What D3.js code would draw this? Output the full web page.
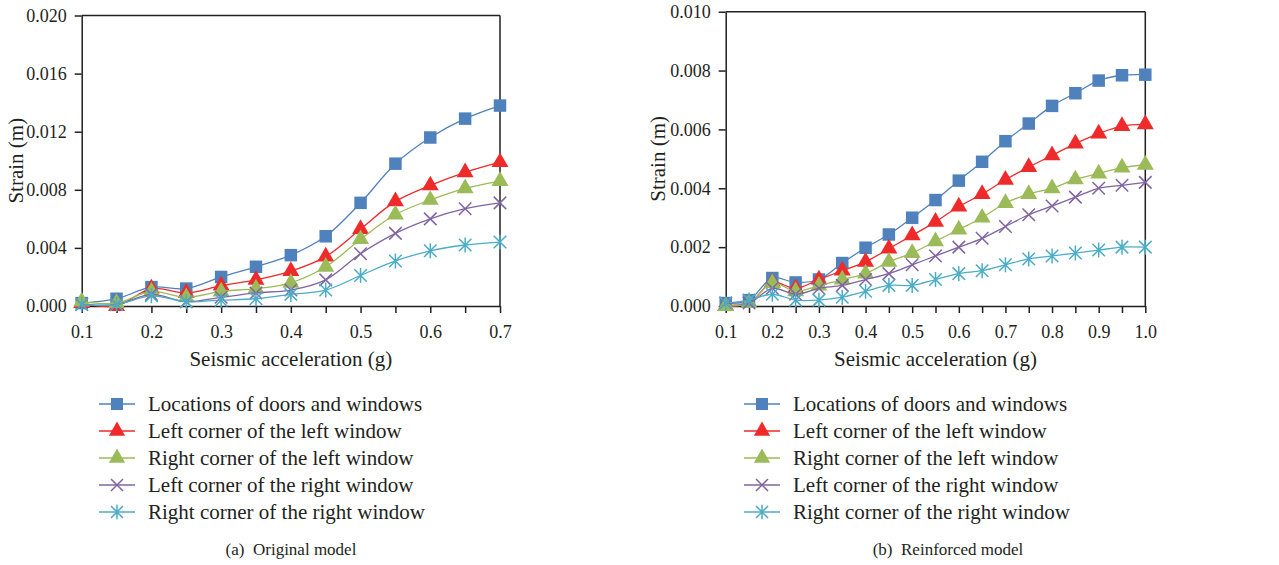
<!DOCTYPE html>
<html lang="en">
<head>
<meta charset="utf-8">
<title>strain curves</title>
<script src="https://d3js.org/d3.v7.min.js"></script>
<style>
  body{margin:0;background:#fff;font-family:"Liberation Serif","DejaVu Serif",serif;}
  .axis path,.axis line{stroke:#231f20;stroke-width:1.5;}
  .title{font-size:21px;fill:#231f20;}
  .legend text{font-size:21px;fill:#231f20;}
  .caption{font-size:17px;fill:#231f20;white-space:pre;}
</style>
</head>
<body>
<div id="chart"></div>
<script>
// series names, same for both panels
var seriesNames = ["Locations of doors and windows","Left corner of the left window","Right corner of the left window","Left corner of the right window","Right corner of the right window"]
var seriesColors = ["#4f81bd","#ee2a2a","#9bbb59","#8064a2","#4bacc6"]
var seriesShapes = ["square","triangle","triangle","x","star"]

// (a) original model
var accOriginal = [0.1,0.15,0.2,0.25,0.3,0.35,0.4,0.45,0.5,0.55,0.6,0.65,0.7]
var doorsOriginal     = [0.0002,0.0005,0.0013,0.0012,0.0020,0.0027,0.0035,0.0048,0.0071,0.0098,0.0116,0.0129,0.0138]
var leftLeftOriginal  = [0.0002,0.0000,0.0012,0.0009,0.0014,0.0018,0.0024,0.0034,0.0053,0.0072,0.0083,0.0092,0.0099]
var rightLeftOriginal = [0.0003,0.0002,0.0010,0.0006,0.0010,0.0012,0.0016,0.0027,0.0046,0.0063,0.0073,0.0081,0.0086]
var leftRightOriginal = [0.0001,0.0001,0.0008,0.0003,0.0006,0.0009,0.0011,0.0018,0.0036,0.0050,0.0060,0.0067,0.0071]
var rightRightOriginal= [0.0001,0.0001,0.0007,0.0003,0.0004,0.0005,0.0008,0.0011,0.0021,0.0031,0.0038,0.0042,0.0044]
var xTicksOriginal = [0.1,0.15,0.2,0.25,0.3,0.35,0.4,0.45,0.5,0.55,0.6,0.65,0.7]
var xLabelsOriginal = ["0.1","","0.2","","0.3","","0.4","","0.5","","0.6","","0.7"]
var yTicksOriginal = [0,0.004,0.008,0.012,0.016,0.020]
var yLabelsOriginal = ["0.000","0.004","0.008","0.012","0.016","0.020"]

// (b) reinforced model
var accReinforced = [0.1,0.15,0.2,0.25,0.3,0.35,0.4,0.45,0.5,0.55,0.6,0.65,0.7,0.75,0.8,0.85,0.9,0.95,1.0]
var doorsReinforced     = [0.0001,0.0002,0.00095,0.0008,0.0009,0.00146,0.00198,0.00243,0.0030,0.0036,0.00426,0.0049,0.0056,0.0062,0.0068,0.00723,0.00766,0.00784,0.00786]
var leftLeftReinforced  = [0.0000,0.0001,0.0008,0.0006,0.0009,0.0012,0.0015,0.00195,0.0024,0.00286,0.00338,0.0038,0.00429,0.00472,0.00512,0.00552,0.00586,0.00611,0.00617]
var rightLeftReinforced = [0.0000,0.0001,0.00078,0.0005,0.00069,0.0009,0.0011,0.0015,0.0018,0.0022,0.0026,0.0030,0.0035,0.0038,0.0040,0.0043,0.0045,0.0047,0.0048]
var leftRightReinforced = [0.0001,0.0001,0.0006,0.0004,0.0006,0.0007,0.0009,0.0011,0.0014,0.0017,0.0020,0.0023,0.0027,0.0031,0.0034,0.0037,0.0040,0.0041,0.0042]
var rightRightReinforced= [0.0001,0.0002,0.0004,0.0002,0.0002,0.0003,0.0005,0.0007,0.0007,0.0009,0.0011,0.0012,0.0014,0.0016,0.0017,0.0018,0.0019,0.0020,0.0020]
var xTicksReinforced = [0.1,0.15,0.2,0.25,0.3,0.35,0.4,0.45,0.5,0.55,0.6,0.65,0.7,0.75,0.8,0.85,0.9,0.95,1.0]
var xLabelsReinforced = ["0.1","","0.2","","0.3","","0.4","","0.5","","0.6","","0.7","","0.8","","0.9","","1.0"]
var yTicksReinforced = [0,0.002,0.004,0.006,0.008,0.010]
var yLabelsReinforced = ["0.000","0.002","0.004","0.006","0.008","0.010"]

var svg = d3.select("#chart").append("svg").attr("width",1279).attr("height",565)

// marker paths, drawn around 0,0
function marker(g, shape, color, s){
    if(shape=="square"){
        g.append("path").attr("d", d3.symbol().type(d3.symbolSquare).size(s*s)()).attr("fill",color)
    } else if(shape=="triangle"){
        g.append("path").attr("d", d3.symbol().type(d3.symbolTriangle).size(s*s*0.8)()).attr("fill",color)
    } else {
        var h = s/2
        var d = "M"+(-h)+","+(-h)+"L"+h+","+h+"M"+(-h)+","+h+"L"+h+","+(-h)
        if(shape=="star") d += "M0,"+(-h*1.2)+"L0,"+(h*1.2)
        g.append("path").attr("d",d).attr("stroke",color).attr("stroke-width",1.5).attr("fill","none")
    }
}

function drawChart(cfg){
    var x = d3.scaleLinear().domain([cfg.xTicks[0], cfg.xTicks[cfg.xTicks.length-1]]).range([cfg.left,cfg.right])
    var y = d3.scaleLinear().domain([0, cfg.yTicks[cfg.yTicks.length-1]]).range([306,cfg.top])

    // frame top and right
    svg.append("line").attr("x1",cfg.left).attr("x2",cfg.right).attr("y1",cfg.top).attr("y2",cfg.top)
        .attr("stroke","#231f20").attr("stroke-width",1.5)
    svg.append("line").attr("x1",cfg.right).attr("x2",cfg.right).attr("y1",cfg.top).attr("y2",306)
        .attr("stroke","#231f20").attr("stroke-width",1.5)

    var xAxis = d3.axisBottom(x).tickValues(cfg.xTicks).tickSize(7).tickSizeOuter(0).tickPadding(12)
        .tickFormat(function(d,i){ return cfg.xLabels[i] })
    svg.append("g").attr("class","axis").attr("transform","translate(0,306)").call(xAxis)
        .attr("font-family","Liberation Serif, serif").attr("font-size",18)

    var yAxis = d3.axisLeft(y).tickValues(cfg.yTicks).tickSize(7).tickSizeOuter(0).tickPadding(8)
        .tickFormat(function(d,i){ return cfg.yLabels[i] })
    svg.append("g").attr("class","axis").attr("transform","translate("+cfg.left+",0)").call(yAxis)
        .attr("font-family","Liberation Serif, serif").attr("font-size",18)
    svg.selectAll(".axis text").attr("fill","#231f20")

    // titles
    svg.append("text").attr("class","title").attr("text-anchor","middle")
        .attr("x",(cfg.left+cfg.right)/2).attr("y",366).text("Seismic acceleration (g)")
    svg.append("text").attr("class","title").attr("text-anchor","middle")
        .attr("transform","translate("+cfg.ylabX+","+((306+cfg.top)/2)+") rotate(-90)")
        .attr("dy","0.35em").text("Strain (m)")

    var line = d3.line().x(function(d){return x(d[0])}).y(function(d){return y(d[1])}).curve(d3.curveCatmullRom.alpha(0.5))

    cfg.series.forEach(function(vals,k){
        var pts = cfg.acc.map(function(a,i){ return [a, vals[i]] })
        svg.append("path").attr("d",line(pts)).attr("fill","none")
            .attr("stroke",seriesColors[k]).attr("stroke-width",1.3)
        pts.forEach(function(p){
            var g = svg.append("g").attr("transform","translate("+x(p[0])+","+y(p[1])+")")
            marker(g, seriesShapes[k], seriesColors[k], 12.5)
        })
    })

    // legend
    var lg = svg.append("g").attr("class","legend")
    seriesNames.forEach(function(name,k){
        var ly = 404 + k*27
        lg.append("line").attr("x1",cfg.legendX).attr("x2",cfg.legendX+36).attr("y1",ly).attr("y2",ly)
            .attr("stroke",seriesColors[k]).attr("stroke-width",1.5)
        var g = lg.append("g").attr("transform","translate("+(cfg.legendX+18)+","+ly+")")
        marker(g, seriesShapes[k], seriesColors[k], 12)
        lg.append("text").attr("x",cfg.legendX+49).attr("y",ly).attr("dy","0.33em").text(name)
    })

    svg.append("text").attr("class","caption").attr("text-anchor","middle")
        .attr("x",cfg.capX).attr("y",555).text(cfg.caption)
}

drawChart({acc:accOriginal, series:[doorsOriginal,leftLeftOriginal,rightLeftOriginal,leftRightOriginal,rightRightOriginal],
    xTicks:xTicksOriginal, xLabels:xLabelsOriginal, yTicks:yTicksOriginal, yLabels:yLabelsOriginal,
    left:81.7, right:500, top:15.5, ylabX:16, legendX:99, capX:291, caption:"(a)  Original model"})

drawChart({acc:accReinforced, series:[doorsReinforced,leftLeftReinforced,rightLeftReinforced,leftRightReinforced,rightRightReinforced],
    xTicks:xTicksReinforced, xLabels:xLabelsReinforced, yTicks:yTicksReinforced, yLabels:yLabelsReinforced,
    left:725.7, right:1145.3, top:11.7, ylabX:658, legendX:744, capX:948, caption:"(b)  Reinforced model"})
</script>
</body>
</html>
